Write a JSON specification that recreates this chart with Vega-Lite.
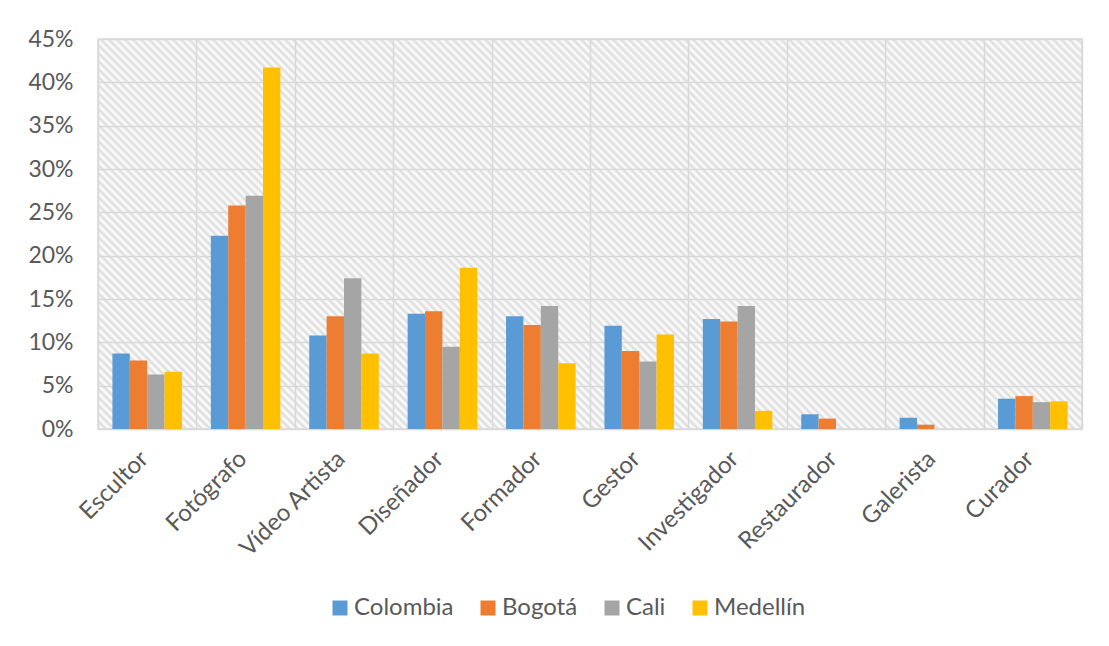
{
  "$schema": "https://vega.github.io/schema/vega-lite/v6.json",
  "width": 984,
  "height": 390,
  "autosize": {"type": "none"},
  "padding": {"left": 98, "top": 39, "right": 27, "bottom": 217},
  "background": "white",
  "config": {
    "font": "Lato",
    "view": {
      "stroke": "#d9d9d9",
      "strokeWidth": 1.5,
      "fill": {
        "gradient": "linear",
        "x1": 0, "y1": 1, "x2": 1.406, "y2": 0.443,
        "stops": [
          {"offset":0,"color":"#dcdcdc"},{"offset":0.0025,"color":"#fff"},{"offset":0.005,"color":"#dcdcdc"},{"offset":0.0075,"color":"#fff"},
          {"offset":0.01,"color":"#dcdcdc"},{"offset":0.0125,"color":"#fff"},{"offset":0.015,"color":"#dcdcdc"},{"offset":0.0175,"color":"#fff"},
          {"offset":0.02,"color":"#dcdcdc"},{"offset":0.0225,"color":"#fff"},{"offset":0.025,"color":"#dcdcdc"},{"offset":0.0275,"color":"#fff"},
          {"offset":0.03,"color":"#dcdcdc"},{"offset":0.0325,"color":"#fff"},{"offset":0.035,"color":"#dcdcdc"},{"offset":0.0375,"color":"#fff"},
          {"offset":0.04,"color":"#dcdcdc"},{"offset":0.0425,"color":"#fff"},{"offset":0.045,"color":"#dcdcdc"},{"offset":0.0475,"color":"#fff"},
          {"offset":0.05,"color":"#dcdcdc"},{"offset":0.0525,"color":"#fff"},{"offset":0.055,"color":"#dcdcdc"},{"offset":0.0575,"color":"#fff"},
          {"offset":0.06,"color":"#dcdcdc"},{"offset":0.0625,"color":"#fff"},{"offset":0.065,"color":"#dcdcdc"},{"offset":0.0675,"color":"#fff"},
          {"offset":0.07,"color":"#dcdcdc"},{"offset":0.0725,"color":"#fff"},{"offset":0.075,"color":"#dcdcdc"},{"offset":0.0775,"color":"#fff"},
          {"offset":0.08,"color":"#dcdcdc"},{"offset":0.0825,"color":"#fff"},{"offset":0.085,"color":"#dcdcdc"},{"offset":0.0875,"color":"#fff"},
          {"offset":0.09,"color":"#dcdcdc"},{"offset":0.0925,"color":"#fff"},{"offset":0.095,"color":"#dcdcdc"},{"offset":0.0975,"color":"#fff"},
          {"offset":0.1,"color":"#dcdcdc"},{"offset":0.1025,"color":"#fff"},{"offset":0.105,"color":"#dcdcdc"},{"offset":0.1075,"color":"#fff"},
          {"offset":0.11,"color":"#dcdcdc"},{"offset":0.1125,"color":"#fff"},{"offset":0.115,"color":"#dcdcdc"},{"offset":0.1175,"color":"#fff"},
          {"offset":0.12,"color":"#dcdcdc"},{"offset":0.1225,"color":"#fff"},{"offset":0.125,"color":"#dcdcdc"},{"offset":0.1275,"color":"#fff"},
          {"offset":0.13,"color":"#dcdcdc"},{"offset":0.1325,"color":"#fff"},{"offset":0.135,"color":"#dcdcdc"},{"offset":0.1375,"color":"#fff"},
          {"offset":0.14,"color":"#dcdcdc"},{"offset":0.1425,"color":"#fff"},{"offset":0.145,"color":"#dcdcdc"},{"offset":0.1475,"color":"#fff"},
          {"offset":0.15,"color":"#dcdcdc"},{"offset":0.1525,"color":"#fff"},{"offset":0.155,"color":"#dcdcdc"},{"offset":0.1575,"color":"#fff"},
          {"offset":0.16,"color":"#dcdcdc"},{"offset":0.1625,"color":"#fff"},{"offset":0.165,"color":"#dcdcdc"},{"offset":0.1675,"color":"#fff"},
          {"offset":0.17,"color":"#dcdcdc"},{"offset":0.1725,"color":"#fff"},{"offset":0.175,"color":"#dcdcdc"},{"offset":0.1775,"color":"#fff"},
          {"offset":0.18,"color":"#dcdcdc"},{"offset":0.1825,"color":"#fff"},{"offset":0.185,"color":"#dcdcdc"},{"offset":0.1875,"color":"#fff"},
          {"offset":0.19,"color":"#dcdcdc"},{"offset":0.1925,"color":"#fff"},{"offset":0.195,"color":"#dcdcdc"},{"offset":0.1975,"color":"#fff"},
          {"offset":0.2,"color":"#dcdcdc"},{"offset":0.2025,"color":"#fff"},{"offset":0.205,"color":"#dcdcdc"},{"offset":0.2075,"color":"#fff"},
          {"offset":0.21,"color":"#dcdcdc"},{"offset":0.2125,"color":"#fff"},{"offset":0.215,"color":"#dcdcdc"},{"offset":0.2175,"color":"#fff"},
          {"offset":0.22,"color":"#dcdcdc"},{"offset":0.2225,"color":"#fff"},{"offset":0.225,"color":"#dcdcdc"},{"offset":0.2275,"color":"#fff"},
          {"offset":0.23,"color":"#dcdcdc"},{"offset":0.2325,"color":"#fff"},{"offset":0.235,"color":"#dcdcdc"},{"offset":0.2375,"color":"#fff"},
          {"offset":0.24,"color":"#dcdcdc"},{"offset":0.2425,"color":"#fff"},{"offset":0.245,"color":"#dcdcdc"},{"offset":0.2475,"color":"#fff"},
          {"offset":0.25,"color":"#dcdcdc"},{"offset":0.2525,"color":"#fff"},{"offset":0.255,"color":"#dcdcdc"},{"offset":0.2575,"color":"#fff"},
          {"offset":0.26,"color":"#dcdcdc"},{"offset":0.2625,"color":"#fff"},{"offset":0.265,"color":"#dcdcdc"},{"offset":0.2675,"color":"#fff"},
          {"offset":0.27,"color":"#dcdcdc"},{"offset":0.2725,"color":"#fff"},{"offset":0.275,"color":"#dcdcdc"},{"offset":0.2775,"color":"#fff"},
          {"offset":0.28,"color":"#dcdcdc"},{"offset":0.2825,"color":"#fff"},{"offset":0.285,"color":"#dcdcdc"},{"offset":0.2875,"color":"#fff"},
          {"offset":0.29,"color":"#dcdcdc"},{"offset":0.2925,"color":"#fff"},{"offset":0.295,"color":"#dcdcdc"},{"offset":0.2975,"color":"#fff"},
          {"offset":0.3,"color":"#dcdcdc"},{"offset":0.3025,"color":"#fff"},{"offset":0.305,"color":"#dcdcdc"},{"offset":0.3075,"color":"#fff"},
          {"offset":0.31,"color":"#dcdcdc"},{"offset":0.3125,"color":"#fff"},{"offset":0.315,"color":"#dcdcdc"},{"offset":0.3175,"color":"#fff"},
          {"offset":0.32,"color":"#dcdcdc"},{"offset":0.3225,"color":"#fff"},{"offset":0.325,"color":"#dcdcdc"},{"offset":0.3275,"color":"#fff"},
          {"offset":0.33,"color":"#dcdcdc"},{"offset":0.3325,"color":"#fff"},{"offset":0.335,"color":"#dcdcdc"},{"offset":0.3375,"color":"#fff"},
          {"offset":0.34,"color":"#dcdcdc"},{"offset":0.3425,"color":"#fff"},{"offset":0.345,"color":"#dcdcdc"},{"offset":0.3475,"color":"#fff"},
          {"offset":0.35,"color":"#dcdcdc"},{"offset":0.3525,"color":"#fff"},{"offset":0.355,"color":"#dcdcdc"},{"offset":0.3575,"color":"#fff"},
          {"offset":0.36,"color":"#dcdcdc"},{"offset":0.3625,"color":"#fff"},{"offset":0.365,"color":"#dcdcdc"},{"offset":0.3675,"color":"#fff"},
          {"offset":0.37,"color":"#dcdcdc"},{"offset":0.3725,"color":"#fff"},{"offset":0.375,"color":"#dcdcdc"},{"offset":0.3775,"color":"#fff"},
          {"offset":0.38,"color":"#dcdcdc"},{"offset":0.3825,"color":"#fff"},{"offset":0.385,"color":"#dcdcdc"},{"offset":0.3875,"color":"#fff"},
          {"offset":0.39,"color":"#dcdcdc"},{"offset":0.3925,"color":"#fff"},{"offset":0.395,"color":"#dcdcdc"},{"offset":0.3975,"color":"#fff"},
          {"offset":0.4,"color":"#dcdcdc"},{"offset":0.4025,"color":"#fff"},{"offset":0.405,"color":"#dcdcdc"},{"offset":0.4075,"color":"#fff"},
          {"offset":0.41,"color":"#dcdcdc"},{"offset":0.4125,"color":"#fff"},{"offset":0.415,"color":"#dcdcdc"},{"offset":0.4175,"color":"#fff"},
          {"offset":0.42,"color":"#dcdcdc"},{"offset":0.4225,"color":"#fff"},{"offset":0.425,"color":"#dcdcdc"},{"offset":0.4275,"color":"#fff"},
          {"offset":0.43,"color":"#dcdcdc"},{"offset":0.4325,"color":"#fff"},{"offset":0.435,"color":"#dcdcdc"},{"offset":0.4375,"color":"#fff"},
          {"offset":0.44,"color":"#dcdcdc"},{"offset":0.4425,"color":"#fff"},{"offset":0.445,"color":"#dcdcdc"},{"offset":0.4475,"color":"#fff"},
          {"offset":0.45,"color":"#dcdcdc"},{"offset":0.4525,"color":"#fff"},{"offset":0.455,"color":"#dcdcdc"},{"offset":0.4575,"color":"#fff"},
          {"offset":0.46,"color":"#dcdcdc"},{"offset":0.4625,"color":"#fff"},{"offset":0.465,"color":"#dcdcdc"},{"offset":0.4675,"color":"#fff"},
          {"offset":0.47,"color":"#dcdcdc"},{"offset":0.4725,"color":"#fff"},{"offset":0.475,"color":"#dcdcdc"},{"offset":0.4775,"color":"#fff"},
          {"offset":0.48,"color":"#dcdcdc"},{"offset":0.4825,"color":"#fff"},{"offset":0.485,"color":"#dcdcdc"},{"offset":0.4875,"color":"#fff"},
          {"offset":0.49,"color":"#dcdcdc"},{"offset":0.4925,"color":"#fff"},{"offset":0.495,"color":"#dcdcdc"},{"offset":0.4975,"color":"#fff"},
          {"offset":0.5,"color":"#dcdcdc"},{"offset":0.5025,"color":"#fff"},{"offset":0.505,"color":"#dcdcdc"},{"offset":0.5075,"color":"#fff"},
          {"offset":0.51,"color":"#dcdcdc"},{"offset":0.5125,"color":"#fff"},{"offset":0.515,"color":"#dcdcdc"},{"offset":0.5175,"color":"#fff"},
          {"offset":0.52,"color":"#dcdcdc"},{"offset":0.5225,"color":"#fff"},{"offset":0.525,"color":"#dcdcdc"},{"offset":0.5275,"color":"#fff"},
          {"offset":0.53,"color":"#dcdcdc"},{"offset":0.5325,"color":"#fff"},{"offset":0.535,"color":"#dcdcdc"},{"offset":0.5375,"color":"#fff"},
          {"offset":0.54,"color":"#dcdcdc"},{"offset":0.5425,"color":"#fff"},{"offset":0.545,"color":"#dcdcdc"},{"offset":0.5475,"color":"#fff"},
          {"offset":0.55,"color":"#dcdcdc"},{"offset":0.5525,"color":"#fff"},{"offset":0.555,"color":"#dcdcdc"},{"offset":0.5575,"color":"#fff"},
          {"offset":0.56,"color":"#dcdcdc"},{"offset":0.5625,"color":"#fff"},{"offset":0.565,"color":"#dcdcdc"},{"offset":0.5675,"color":"#fff"},
          {"offset":0.57,"color":"#dcdcdc"},{"offset":0.5725,"color":"#fff"},{"offset":0.575,"color":"#dcdcdc"},{"offset":0.5775,"color":"#fff"},
          {"offset":0.58,"color":"#dcdcdc"},{"offset":0.5825,"color":"#fff"},{"offset":0.585,"color":"#dcdcdc"},{"offset":0.5875,"color":"#fff"},
          {"offset":0.59,"color":"#dcdcdc"},{"offset":0.5925,"color":"#fff"},{"offset":0.595,"color":"#dcdcdc"},{"offset":0.5975,"color":"#fff"},
          {"offset":0.6,"color":"#dcdcdc"},{"offset":0.6025,"color":"#fff"},{"offset":0.605,"color":"#dcdcdc"},{"offset":0.6075,"color":"#fff"},
          {"offset":0.61,"color":"#dcdcdc"},{"offset":0.6125,"color":"#fff"},{"offset":0.615,"color":"#dcdcdc"},{"offset":0.6175,"color":"#fff"},
          {"offset":0.62,"color":"#dcdcdc"},{"offset":0.6225,"color":"#fff"},{"offset":0.625,"color":"#dcdcdc"},{"offset":0.6275,"color":"#fff"},
          {"offset":0.63,"color":"#dcdcdc"},{"offset":0.6325,"color":"#fff"},{"offset":0.635,"color":"#dcdcdc"},{"offset":0.6375,"color":"#fff"},
          {"offset":0.64,"color":"#dcdcdc"},{"offset":0.6425,"color":"#fff"},{"offset":0.645,"color":"#dcdcdc"},{"offset":0.6475,"color":"#fff"},
          {"offset":0.65,"color":"#dcdcdc"},{"offset":0.6525,"color":"#fff"},{"offset":0.655,"color":"#dcdcdc"},{"offset":0.6575,"color":"#fff"},
          {"offset":0.66,"color":"#dcdcdc"},{"offset":0.6625,"color":"#fff"},{"offset":0.665,"color":"#dcdcdc"},{"offset":0.6675,"color":"#fff"},
          {"offset":0.67,"color":"#dcdcdc"},{"offset":0.6725,"color":"#fff"},{"offset":0.675,"color":"#dcdcdc"},{"offset":0.6775,"color":"#fff"},
          {"offset":0.68,"color":"#dcdcdc"},{"offset":0.6825,"color":"#fff"},{"offset":0.685,"color":"#dcdcdc"},{"offset":0.6875,"color":"#fff"},
          {"offset":0.69,"color":"#dcdcdc"},{"offset":0.6925,"color":"#fff"},{"offset":0.695,"color":"#dcdcdc"},{"offset":0.6975,"color":"#fff"},
          {"offset":0.7,"color":"#dcdcdc"},{"offset":0.7025,"color":"#fff"},{"offset":0.705,"color":"#dcdcdc"},{"offset":0.7075,"color":"#fff"},
          {"offset":0.71,"color":"#dcdcdc"},{"offset":0.7125,"color":"#fff"},{"offset":0.715,"color":"#dcdcdc"},{"offset":0.7175,"color":"#fff"},
          {"offset":0.72,"color":"#dcdcdc"},{"offset":0.7225,"color":"#fff"},{"offset":0.725,"color":"#dcdcdc"},{"offset":0.7275,"color":"#fff"},
          {"offset":0.73,"color":"#dcdcdc"},{"offset":0.7325,"color":"#fff"},{"offset":0.735,"color":"#dcdcdc"},{"offset":0.7375,"color":"#fff"},
          {"offset":0.74,"color":"#dcdcdc"},{"offset":0.7425,"color":"#fff"},{"offset":0.745,"color":"#dcdcdc"},{"offset":0.7475,"color":"#fff"},
          {"offset":0.75,"color":"#dcdcdc"},{"offset":0.7525,"color":"#fff"},{"offset":0.755,"color":"#dcdcdc"},{"offset":0.7575,"color":"#fff"},
          {"offset":0.76,"color":"#dcdcdc"},{"offset":0.7625,"color":"#fff"},{"offset":0.765,"color":"#dcdcdc"},{"offset":0.7675,"color":"#fff"},
          {"offset":0.77,"color":"#dcdcdc"},{"offset":0.7725,"color":"#fff"},{"offset":0.775,"color":"#dcdcdc"},{"offset":0.7775,"color":"#fff"},
          {"offset":0.78,"color":"#dcdcdc"},{"offset":0.7825,"color":"#fff"},{"offset":0.785,"color":"#dcdcdc"},{"offset":0.7875,"color":"#fff"},
          {"offset":0.79,"color":"#dcdcdc"},{"offset":0.7925,"color":"#fff"},{"offset":0.795,"color":"#dcdcdc"},{"offset":0.7975,"color":"#fff"},
          {"offset":0.8,"color":"#dcdcdc"},{"offset":0.8025,"color":"#fff"},{"offset":0.805,"color":"#dcdcdc"},{"offset":0.8075,"color":"#fff"},
          {"offset":0.81,"color":"#dcdcdc"},{"offset":0.8125,"color":"#fff"},{"offset":0.815,"color":"#dcdcdc"},{"offset":0.8175,"color":"#fff"},
          {"offset":0.82,"color":"#dcdcdc"},{"offset":0.8225,"color":"#fff"},{"offset":0.825,"color":"#dcdcdc"},{"offset":0.8275,"color":"#fff"},
          {"offset":0.83,"color":"#dcdcdc"},{"offset":0.8325,"color":"#fff"},{"offset":0.835,"color":"#dcdcdc"},{"offset":0.8375,"color":"#fff"},
          {"offset":0.84,"color":"#dcdcdc"},{"offset":0.8425,"color":"#fff"},{"offset":0.845,"color":"#dcdcdc"},{"offset":0.8475,"color":"#fff"},
          {"offset":0.85,"color":"#dcdcdc"},{"offset":0.8525,"color":"#fff"},{"offset":0.855,"color":"#dcdcdc"},{"offset":0.8575,"color":"#fff"},
          {"offset":0.86,"color":"#dcdcdc"},{"offset":0.8625,"color":"#fff"}
        ]
      }
    }
  },
  "data": {
    "values": [
      {"rol": "Escultor", "ciudad": "Colombia", "pct": 0.087},
      {"rol": "Escultor", "ciudad": "Bogotá", "pct": 0.079},
      {"rol": "Escultor", "ciudad": "Cali", "pct": 0.063},
      {"rol": "Escultor", "ciudad": "Medellín", "pct": 0.066},
      {"rol": "Fotógrafo", "ciudad": "Colombia", "pct": 0.223},
      {"rol": "Fotógrafo", "ciudad": "Bogotá", "pct": 0.258},
      {"rol": "Fotógrafo", "ciudad": "Cali", "pct": 0.269},
      {"rol": "Fotógrafo", "ciudad": "Medellín", "pct": 0.417},
      {"rol": "Vídeo Artista", "ciudad": "Colombia", "pct": 0.108},
      {"rol": "Vídeo Artista", "ciudad": "Bogotá", "pct": 0.130},
      {"rol": "Vídeo Artista", "ciudad": "Cali", "pct": 0.174},
      {"rol": "Vídeo Artista", "ciudad": "Medellín", "pct": 0.087},
      {"rol": "Diseñador", "ciudad": "Colombia", "pct": 0.133},
      {"rol": "Diseñador", "ciudad": "Bogotá", "pct": 0.136},
      {"rol": "Diseñador", "ciudad": "Cali", "pct": 0.095},
      {"rol": "Diseñador", "ciudad": "Medellín", "pct": 0.186},
      {"rol": "Formador", "ciudad": "Colombia", "pct": 0.130},
      {"rol": "Formador", "ciudad": "Bogotá", "pct": 0.120},
      {"rol": "Formador", "ciudad": "Cali", "pct": 0.142},
      {"rol": "Formador", "ciudad": "Medellín", "pct": 0.076},
      {"rol": "Gestor", "ciudad": "Colombia", "pct": 0.119},
      {"rol": "Gestor", "ciudad": "Bogotá", "pct": 0.090},
      {"rol": "Gestor", "ciudad": "Cali", "pct": 0.078},
      {"rol": "Gestor", "ciudad": "Medellín", "pct": 0.109},
      {"rol": "Investigador", "ciudad": "Colombia", "pct": 0.127},
      {"rol": "Investigador", "ciudad": "Bogotá", "pct": 0.124},
      {"rol": "Investigador", "ciudad": "Cali", "pct": 0.142},
      {"rol": "Investigador", "ciudad": "Medellín", "pct": 0.021},
      {"rol": "Restaurador", "ciudad": "Colombia", "pct": 0.017},
      {"rol": "Restaurador", "ciudad": "Bogotá", "pct": 0.012},
      {"rol": "Restaurador", "ciudad": "Cali", "pct": 0},
      {"rol": "Restaurador", "ciudad": "Medellín", "pct": 0},
      {"rol": "Galerista", "ciudad": "Colombia", "pct": 0.013},
      {"rol": "Galerista", "ciudad": "Bogotá", "pct": 0.005},
      {"rol": "Galerista", "ciudad": "Cali", "pct": 0},
      {"rol": "Galerista", "ciudad": "Medellín", "pct": 0},
      {"rol": "Curador", "ciudad": "Colombia", "pct": 0.035},
      {"rol": "Curador", "ciudad": "Bogotá", "pct": 0.038},
      {"rol": "Curador", "ciudad": "Cali", "pct": 0.031},
      {"rol": "Curador", "ciudad": "Medellín", "pct": 0.032}
    ]
  },
  "mark": {"type": "bar"},
  "encoding": {
    "x": {
      "field": "rol",
      "type": "nominal",
      "sort": null,
      "scale": {"paddingInner": 0, "paddingOuter": 0},
      "axis": {
        "title": null,
        "labelAngle": -45,
        "labelAlign": "right",
        "labelBaseline": "middle",
        "labelFontSize": 24,
        "labelColor": "#595959",
        "labelPadding": 26,
        "labelOffset": -3,
        "ticks": false,
        "domain": false,
        "grid": true,
        "gridColor": "#d9d9d9",
        "gridWidth": 1.5,
        "tickBand": "extent"
      }
    },
    "xOffset": {
      "field": "ciudad",
      "type": "nominal",
      "sort": ["Colombia", "Bogotá", "Cali", "Medellín"],
      "scale": {"paddingInner": 0, "paddingOuter": 0.83}
    },
    "y": {
      "field": "pct",
      "type": "quantitative",
      "scale": {"domain": [0, 0.45]},
      "axis": {
        "title": null,
        "values": [0, 0.05, 0.1, 0.15, 0.2, 0.25, 0.3, 0.35, 0.4, 0.45],
        "format": ".0%",
        "labelFontSize": 23,
        "labelColor": "#595959",
        "labelPadding": 25,
        "ticks": false,
        "domain": false,
        "gridColor": "#d9d9d9",
        "gridWidth": 1.5
      }
    },
    "color": {
      "field": "ciudad",
      "type": "nominal",
      "scale": {
        "domain": ["Colombia", "Bogotá", "Cali", "Medellín"],
        "range": ["#5b9bd5", "#ed7d31", "#a5a5a5", "#ffc000"]
      },
      "legend": {
        "title": null,
        "orient": "none",
        "legendX": 230,
        "legendY": 557,
        "padding": 0,
        "direction": "horizontal",
        "symbolType": "square",
        "symbolSize": 225,
        "symbolStrokeWidth": 0,
        "labelFontSize": 24,
        "labelColor": "#595959",
        "labelOffset": 2,
        "columnPadding": 22
      }
    }
  }
}
